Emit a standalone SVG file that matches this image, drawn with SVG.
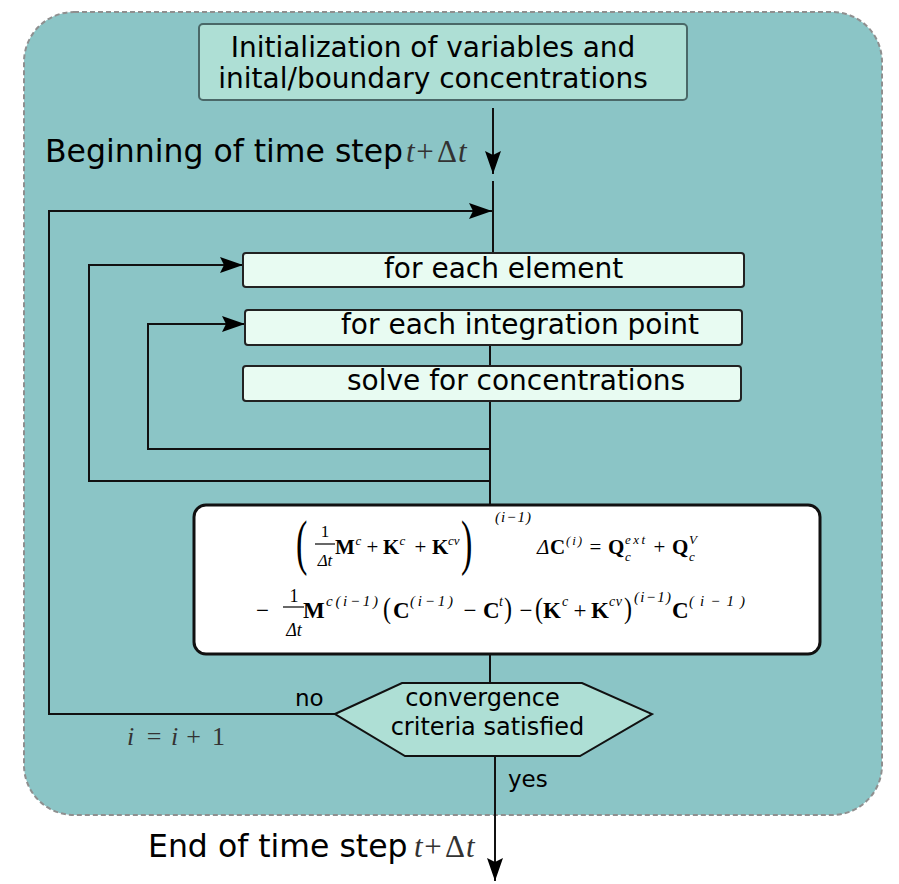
<svg xmlns="http://www.w3.org/2000/svg" width="899" height="884" viewBox="0 0 899 884">
<defs>
<style>
.lbl{font-family:"DejaVu Sans","Verdana",sans-serif;fill:#000}
.m{font-family:"Liberation Serif","Times New Roman",serif;fill:#000}
.b{font-weight:bold}
.it{font-style:italic}
.cm{font-family:"Liberation Serif","Times New Roman",serif;fill:#333}
.ln{fill:none;stroke:#111;stroke-width:2}
.box{fill:#e8fbf2;stroke:#222;stroke-width:2}
</style>
<marker id="ah" viewBox="0 0 23 16" refX="23" refY="8" markerWidth="23" markerHeight="16" markerUnits="userSpaceOnUse" orient="auto">
<path d="M0,0 L23,8 L0,16 L4,8 z" fill="#000"/>
</marker>
</defs>
<rect x="24" y="12" width="858" height="803" rx="50" ry="50" fill="#8bc5c6" stroke="#8f8f8f" stroke-width="2" stroke-dasharray="5 3"/>

<g id="connectors">
<path class="ln" d="M493,108 L493,174" marker-end="url(#ah)"/>
<path class="ln" d="M493,181 L493,253"/>
<path class="ln" d="M335,714 L49,714 L49,211 L492,211" marker-end="url(#ah)"/>
<path class="ln" d="M490,481 L89,481 L89,265 L243,265" marker-end="url(#ah)"/>
<path class="ln" d="M490,449 L148,449 L148,324 L245,324" marker-end="url(#ah)"/>
<path class="ln" d="M490,345 L490,366"/>
<path class="ln" d="M490,401 L490,505"/>
<path class="ln" d="M490,654 L490,683"/>
<path class="ln" d="M495,756 L495,881" marker-end="url(#ah)"/>
</g>

<g id="init">
<rect x="199" y="24" width="488" height="76" rx="4" fill="#aedfd5" stroke="#4a6868" stroke-width="2"/>
<text class="lbl" x="433" y="57" font-size="28" text-anchor="middle">Initialization of variables and</text>
<text class="lbl" x="433" y="88" font-size="28" text-anchor="middle">inital/boundary concentrations</text>
</g>

<g id="begin">
<text class="lbl" x="45" y="162" font-size="31.5">Beginning of time step</text>
<text class="cm it" x="406" y="162" font-size="31">t</text>
<text class="cm" x="425" y="162" font-size="31" text-anchor="middle">+</text>
<text class="cm" x="437" y="162" font-size="31">Δ</text>
<text class="cm it" x="458" y="162" font-size="31">t</text>
</g>

<g id="elem">
<rect class="box" x="243" y="253" width="501" height="34" rx="3"/>
<text class="lbl" x="384" y="278" font-size="28">for each element</text>
</g>

<g id="ipoint">
<rect class="box" x="245" y="310" width="497" height="35" rx="3"/>
<text class="lbl" x="341" y="334" font-size="28">for each integration point</text>
</g>

<g id="solve">
<rect class="box" x="243" y="366" width="498" height="35" rx="3"/>
<text class="lbl" x="347" y="390" font-size="28">solve for concentrations</text>
</g>

<g id="equation">
<rect x="194" y="505" width="626" height="149" rx="12" fill="#fff" stroke="#111" stroke-width="3"/>
<text class="m" transform="translate(296,563) scale(0.55,1)" font-size="62">(</text>
<text class="m" x="325" y="537" font-size="17" text-anchor="middle">1</text>
<line x1="315" y1="544" x2="335" y2="544" stroke="#000" stroke-width="1.2"/>
<text class="m it" x="325" y="566" font-size="17" text-anchor="middle">Δt</text>
<text class="m b" x="335" y="554" font-size="21">M</text>
<text class="m it" x="355.5" y="545" font-size="13">c</text>
<text class="m" x="372.5" y="554" font-size="21" text-anchor="middle">+</text>
<text class="m b" x="383" y="554" font-size="21">K</text>
<text class="m it" x="399.5" y="545" font-size="13">c</text>
<text class="m" x="420.5" y="554" font-size="21" text-anchor="middle">+</text>
<text class="m b" x="432" y="554" font-size="21">K</text>
<text class="m it" x="448" y="545" font-size="13">cv</text>
<text class="m" transform="translate(461,563) scale(0.55,1)" font-size="62">)</text>
<text class="m it" x="495" y="522" font-size="15" textLength="36" lengthAdjust="spacing">(i−1)</text>
<text class="m it" x="537" y="554" font-size="21">Δ</text>
<text class="m b" x="550" y="554" font-size="21">C</text>
<text class="m it" x="566" y="545" font-size="13" textLength="16" lengthAdjust="spacing">(i)</text>
<text class="m" x="595.5" y="554" font-size="21" text-anchor="middle">=</text>
<text class="m b" x="608" y="554" font-size="21">Q</text>
<text class="m it" x="625" y="544" font-size="13" textLength="20" lengthAdjust="spacing">ext</text>
<text class="m it" x="625" y="561" font-size="13">c</text>
<text class="m" x="659.5" y="554" font-size="21" text-anchor="middle">+</text>
<text class="m b" x="672" y="554" font-size="21">Q</text>
<text class="m it" x="689" y="544" font-size="13">V</text>
<text class="m it" x="689" y="561" font-size="13">c</text>
<text class="m" x="262.5" y="618" font-size="23" text-anchor="middle">−</text>
<text class="m" x="294" y="602" font-size="18" text-anchor="middle">1</text>
<line x1="283" y1="607" x2="304" y2="607" stroke="#000" stroke-width="1.2"/>
<text class="m it" x="294" y="636" font-size="18" text-anchor="middle">Δt</text>
<text class="m b" x="303" y="618" font-size="23">M</text>
<text class="m it" x="326" y="606" font-size="15" textLength="52" lengthAdjust="spacing">c(i−1)</text>
<text class="m" transform="translate(383,618) scale(0.8,1)" font-size="30">(</text>
<text class="m b" x="393" y="618" font-size="23">C</text>
<text class="m it" x="410" y="606" font-size="15" textLength="43" lengthAdjust="spacing">(i−1)</text>
<text class="m" x="470" y="618" font-size="23" text-anchor="middle">−</text>
<text class="m b" x="483" y="618" font-size="23">C</text>
<text class="m it" x="499" y="606" font-size="14">t</text>
<text class="m" transform="translate(504,618) scale(0.8,1)" font-size="30">)</text>
<text class="m" x="526" y="618" font-size="23" text-anchor="middle">−</text>
<text class="m" transform="translate(535,618) scale(0.8,1)" font-size="30">(</text>
<text class="m b" x="543" y="618" font-size="23">K</text>
<text class="m it" x="562" y="606" font-size="14">c</text>
<text class="m" x="580" y="618" font-size="23" text-anchor="middle">+</text>
<text class="m b" x="591" y="618" font-size="23">K</text>
<text class="m it" x="609" y="606" font-size="14" textLength="13" lengthAdjust="spacing">cv</text>
<text class="m" transform="translate(624,618) scale(0.8,1)" font-size="30">)</text>
<text class="m it" x="634" y="602" font-size="15" textLength="37" lengthAdjust="spacing">(i−1)</text>
<text class="m b" x="672" y="618" font-size="23">C</text>
<text class="m it" x="689" y="606" font-size="15" textLength="56" lengthAdjust="spacing">(i−1)</text>
</g>

<g id="converge">
<polygon points="335,714 402,683 582,683 652,714 580,756 405,756" fill="#aedfd5" stroke="#111" stroke-width="2"/>
<text class="lbl" x="482.5" y="706" font-size="24" text-anchor="middle">convergence</text>
<text class="lbl" x="487.5" y="735" font-size="24" text-anchor="middle">criteria satisfied</text>
</g>

<g id="labels">
<text class="lbl" x="295" y="706" font-size="23">no</text>
<text class="lbl" x="508" y="787" font-size="23">yes</text>
<text class="cm it" x="127" y="745" font-size="26" fill="#555">i</text>
<text class="cm" x="154" y="745" font-size="26" text-anchor="middle" fill="#555">=</text>
<text class="cm it" x="171" y="745" font-size="26" fill="#555">i</text>
<text class="cm" x="193.5" y="745" font-size="26" text-anchor="middle" fill="#555">+</text>
<text class="cm" x="212" y="745" font-size="26" fill="#555">1</text>
</g>

<g id="end">
<text class="lbl" x="148" y="857" font-size="31.5">End of time step</text>
<text class="cm it" x="414" y="857" font-size="31">t</text>
<text class="cm" x="433" y="857" font-size="31" text-anchor="middle">+</text>
<text class="cm" x="445" y="857" font-size="31">Δ</text>
<text class="cm it" x="466" y="857" font-size="31">t</text>
</g>
</svg>
